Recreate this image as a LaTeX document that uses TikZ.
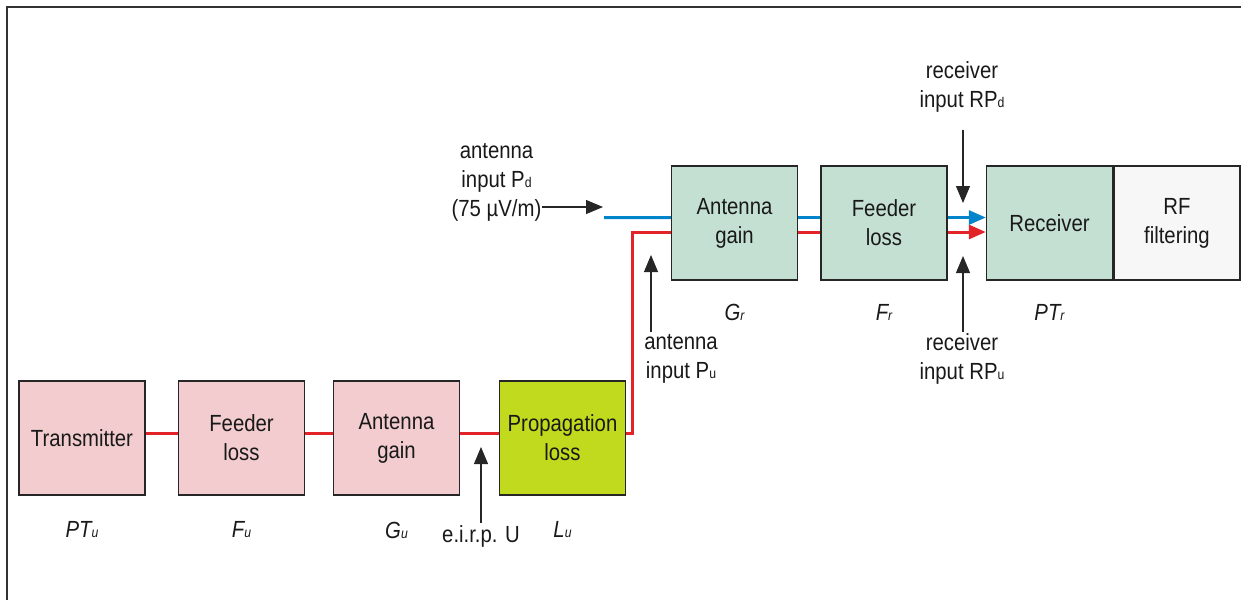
\documentclass[tikz,border=0pt]{standalone}
\usepackage{fontspec}
\setmainfont[FakeStretch=0.87]{Liberation Sans}
\usetikzlibrary{positioning, arrows.meta}
\definecolor{txpink}{RGB}{242,204,206}
\definecolor{rxgreen}{RGB}{196,224,210}
\definecolor{proplime}{RGB}{194,218,30}
\definecolor{rfgrey}{RGB}{247,247,247}
\definecolor{upred}{RGB}{226,35,40}
\definecolor{downblue}{RGB}{0,133,202}
\newcommand{\low}[1]{{\fontsize{8}{8}\selectfont #1}}

\begin{document}
\begin{tikzpicture}[x=0.02cm, y=-0.02cm,
  every node/.style={font=\fontsize{13.3}{16.5}\selectfont, text=black!90},
  block/.style={draw=black!85, line width=0.8pt, minimum width=2.52cm, minimum height=2.28cm, align=center, inner sep=0pt},
  sym/.style={font=\fontsize{13.3}{16.5}\selectfont\itshape},
  note/.style={align=center, inner sep=1pt},
  upline/.style={upred, line width=1.7pt},
  downline/.style={downblue, line width=1.7pt},
  pointer/.style={black!85, line width=0.6pt, -{Triangle[length=0.34cm,width=0.28cm]}},
  tip/.style={-{Triangle[length=0.34cm,width=0.28cm]}}]
\useasboundingbox (0,0) rectangle (1241,600);

% frame
\draw[black!80, line width=0.8pt] (7,600) -- (7,7) -- (1241,7);

% uplink chain
\node[block, fill=txpink] (tx) at (82,438) {Transmitter};
\node[block, fill=txpink] (txfeed) at (241.5,438) {Feeder\\loss};
\node[block, fill=txpink] (txant) at (396.5,438) {Antenna\\gain};
\node[block, fill=proplime] (prop) at (562.5,438) {Propagation\\loss};

% receiving chain
\node[block, fill=rxgreen] (rxant) at (734.5,223) {Antenna\\gain};
\node[block, fill=rxgreen] (rxfeed) at (884,223) {Feeder\\loss};
\node[block, fill=rxgreen] (rx) at (1049.5,223) {Receiver};
\node[block, fill=rfgrey, anchor=west] (rf) at (rx.east) {RF\\filtering};

% symbols under the blocks
\node[sym] (ptu) at (82,530) {PT\low{u}};
\node[sym] (fu) at (241.5,530) {F\low{u}};
\node[sym] (gu) at (396.5,530) {G\low{u}};
\node[sym] (lu) at (562.5,530) {L\low{u}};
\node[sym] (gr) at (734.5,312) {G\low{r}};
\node[sym] (fr) at (884,312) {F\low{r}};
\node[sym] (ptr) at (1049.5,312) {PT\low{r}};

% red (wanted) path
\draw[upline] ([yshift=0.1cm]tx.east) -- ([yshift=0.1cm]txfeed.west);
\draw[upline] ([yshift=0.1cm]txfeed.east) -- ([yshift=0.1cm]txant.west);
\draw[upline] ([yshift=0.1cm]txant.east) -- ([yshift=0.1cm]prop.west);
\draw[upline] ([yshift=0.1cm]prop.east) -- ++(6,0) |- ([yshift=-0.18cm]rxant.west);
\draw[upline] ([yshift=-0.18cm]rxant.east) -- ([yshift=-0.18cm]rxfeed.west);
\draw[upline, tip] ([yshift=-0.18cm]rxfeed.east) -- ([yshift=-0.18cm]rx.west);

% blue path
\coordinate (pdstart) at (604,217.5);
\draw[downline] (pdstart) -- ([yshift=0.11cm]rxant.west);
\draw[downline] ([yshift=0.11cm]rxant.east) -- ([yshift=0.11cm]rxfeed.west);
\draw[downline, tip] ([yshift=0.11cm]rxfeed.east) -- ([yshift=0.11cm]rx.west);

% reference points
\node[note, inner sep=0pt] (pdnote) at (496.5,182) {antenna\\input P\low{d}\\(75 µV/m)};
\coordinate (pdtip) at (603,207);
\draw[pointer] (pdnote.east |- pdtip) -- (pdtip);

\node[note] (eirp) at (481,536) {e.i.r.p. U};
\coordinate (eirptip) at (481,447);
\draw[pointer] (eirp.north) -- (eirptip);

\node[note] (punote) at (681,359) {antenna\\input P\low{u}};
\coordinate (putip) at (651,255);
\draw[pointer] (putip |- punote.north) -- (putip);

\node[note] (rpdnote) at (962,87) {receiver\\input RP\low{d}};
\coordinate (rpdtip) at (963,203);
\draw[pointer] ([yshift=-0.3cm]rpdnote.south -| rpdtip) -- (rpdtip);

\node[note] (rpunote) at (962,359) {receiver\\input RP\low{u}};
\coordinate (rputip) at (963,256);
\draw[pointer] (rputip |- rpunote.north) -- (rputip);
\end{tikzpicture}
\end{document}
